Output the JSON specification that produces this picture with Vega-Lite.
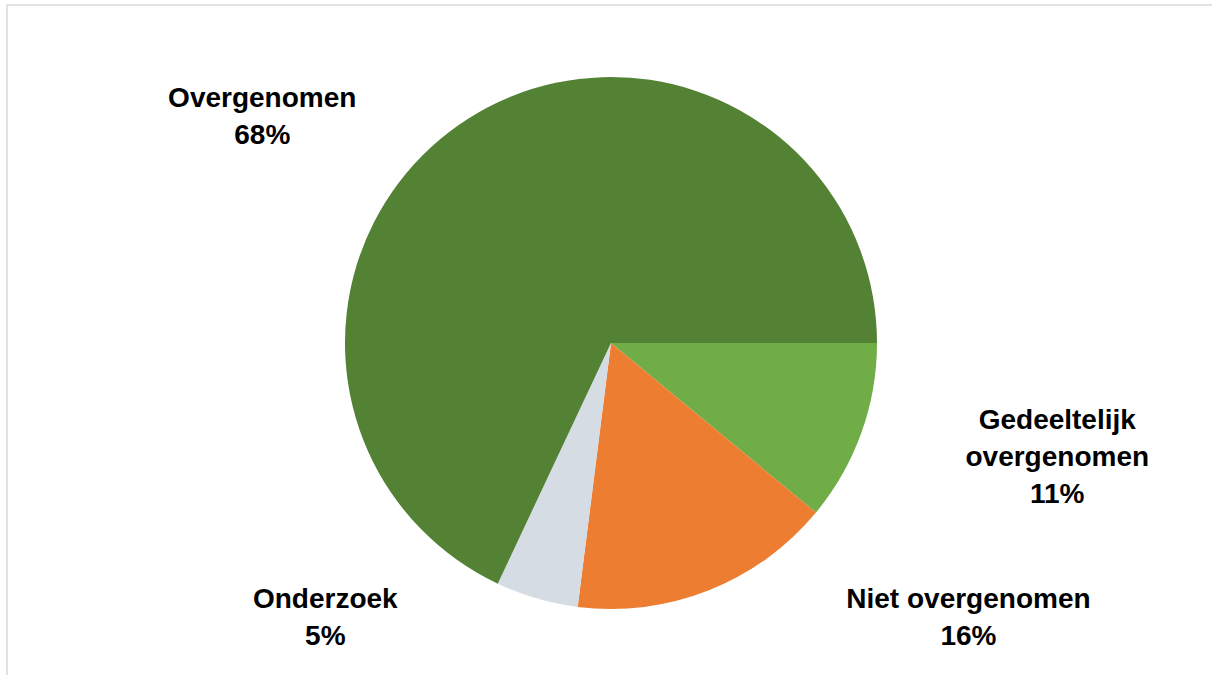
{
  "$schema": "https://vega.github.io/schema/vega-lite/v6.json",
  "autosize": {"type": "fit", "contains": "padding"},
  "width": 1212,
  "height": 675,
  "padding": {"left": 7, "top": 5, "right": -3, "bottom": -6},
  "background": "#ffffff",
  "view": {"stroke": "#d9d9d9", "strokeWidth": 1.5},
  "config": {"view": {"stroke": "#d9d9d9", "strokeWidth": 1.5}},
  "data": {
    "values": [
      {"categorie": "Gedeeltelijk overgenomen", "waarde": 11, "volgorde": 1},
      {"categorie": "Niet overgenomen", "waarde": 16, "volgorde": 2},
      {"categorie": "Onderzoek", "waarde": 5, "volgorde": 3},
      {"categorie": "Overgenomen", "waarde": 68, "volgorde": 4}
    ]
  },
  "transform": [
    {"calculate": "datum.categorie + '|' + datum.waarde + '%'", "as": "label2"},
    {"calculate": "datum.categorie + ' ' + datum.waarde + '%'", "as": "label3"}
  ],
  "encoding": {
    "theta": {"field": "waarde", "type": "quantitative", "stack": true, "scale": {"range": [1.5707963, 7.8539816]}},
    "order": {"field": "volgorde", "type": "quantitative"}
  },
  "layer": [
    {
      "mark": {"type": "arc", "outerRadius": 266},
      "encoding": {
        "color": {
          "field": "categorie",
          "type": "nominal",
          "scale": {
            "domain": ["Gedeeltelijk overgenomen", "Niet overgenomen", "Onderzoek", "Overgenomen"],
            "range": ["#70ad47", "#ed7d31", "#d6dce4", "#548235"]
          },
          "legend": null
        }
      }
    },
    {
      "mark": {"type": "text", "radius": 300, "dx": -188, "dy": 9, "font": "Liberation Sans", "fontWeight": "bold", "fontSize": 28, "lineHeight": 37, "lineBreak": "|", "align": "center", "baseline": "middle", "color": "#000000"},
      "encoding": {
        "text": {"condition": {"test": "datum.categorie == 'Overgenomen'", "field": "label2"}, "value": ""}
      }
    },
    {
      "mark": {"type": "text", "radius": 300, "dx": 164, "dy": -24, "font": "Liberation Sans", "fontWeight": "bold", "fontSize": 28, "lineHeight": 37, "lineBreak": " ", "align": "center", "baseline": "middle", "color": "#000000"},
      "encoding": {
        "text": {"condition": {"test": "datum.categorie == 'Gedeeltelijk overgenomen'", "field": "label3"}, "value": ""}
      }
    },
    {
      "mark": {"type": "text", "radius": 300, "dx": 247, "dy": -22, "font": "Liberation Sans", "fontWeight": "bold", "fontSize": 28, "lineHeight": 37, "lineBreak": "|", "align": "center", "baseline": "middle", "color": "#000000"},
      "encoding": {
        "text": {"condition": {"test": "datum.categorie == 'Niet overgenomen'", "field": "label2"}, "value": ""}
      }
    },
    {
      "mark": {"type": "text", "radius": 300, "dx": -202, "dy": -31, "font": "Liberation Sans", "fontWeight": "bold", "fontSize": 28, "lineHeight": 37, "lineBreak": "|", "align": "center", "baseline": "middle", "color": "#000000"},
      "encoding": {
        "text": {"condition": {"test": "datum.categorie == 'Onderzoek'", "field": "label2"}, "value": ""}
      }
    }
  ]
}
